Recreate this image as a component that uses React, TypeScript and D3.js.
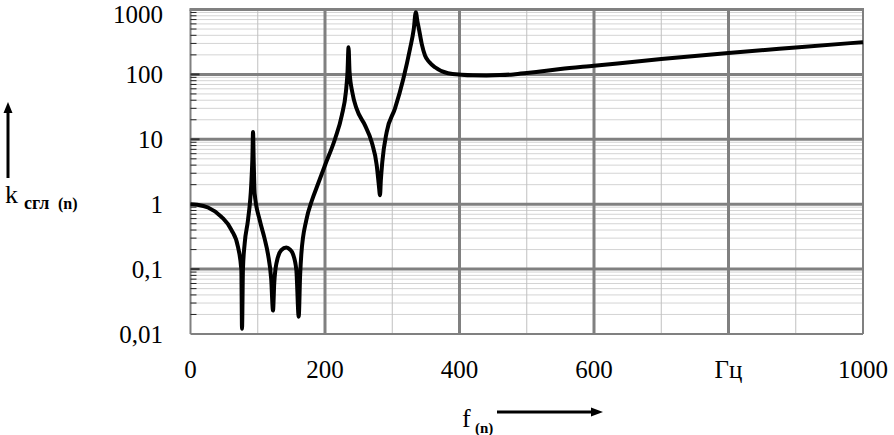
import React from "react";
import * as d3 from "d3";

const freq = [0, 10, 26, 46, 61, 70.6, 75.6, 76.6, 78, 80.6, 85.5, 90.4, 92, 93, 94, 95.4, 102.9, 110, 115.2, 120, 122.7, 124.5, 127.6, 135, 142.5, 148, 152.4, 157.4, 160.9, 163, 164.8, 172.2, 180, 190, 200, 215, 225, 231, 233.5, 235, 236.5, 240.6, 247, 259.5, 269.4, 276.9, 280, 281.8, 283, 285.2, 291.7, 304, 316.5, 326.4, 332, 335, 337.5, 340, 344, 348.7, 355, 363.6, 383, 403, 420, 440, 460, 480, 500, 520, 550, 600, 700, 800, 900, 1000];
const kValues = [1.0, 0.98, 0.89, 0.64, 0.4, 0.22, 0.097, 0.012, 0.1, 0.25, 0.57, 2.08, 5, 12.9, 4.5, 1.46, 0.57, 0.3, 0.17, 0.07, 0.023, 0.06, 0.12, 0.196, 0.216, 0.2, 0.17, 0.097, 0.0185, 0.08, 0.17, 0.57, 1.1, 2.1, 3.98, 10.2, 23.4, 53, 110, 263, 110, 53, 29.6, 16.4, 9.1, 3.98, 2.0, 1.37, 2.3, 4.47, 12.9, 29.6, 85.9, 248, 500, 910, 650, 480, 290, 196, 155, 129, 104, 99, 97, 96.5, 97.5, 100, 105, 111, 121, 136, 172, 214, 260, 314];

const xTicks = [0, 200, 400, 600, 800, 1000];
const xTickLabels = ["0", "200", "400", "600", "Гц", "1000"];
const yTicks = [0.01, 0.1, 1, 10, 100, 1000];
const yTickLabels = ["0,01", "0,1", "1", "10", "100", "1000"];

const W = 894, H = 435;
const X0 = 190.5, X1 = 863, Y0 = 334, Y1 = 9.5;

export default function App() {
  const x = d3.scaleLinear().domain([0, 1000]).range([X0, X1]);
  const y = d3.scaleLog().domain([0.01, 1000]).range([Y0, Y1]);
  const pts = freq.map((f, i) => [f, kValues[i]] as [number, number]);
  const line = d3.line<[number, number]>().x(d => x(d[0])).y(d => y(d[1])).curve(d3.curveMonotoneX);

  const minorY: number[] = [];
  for (let e = -2; e < 3; e++) for (let m = 2; m <= 9; m++) minorY.push(m * Math.pow(10, e));
  const minorX = [100, 300, 500, 700, 900];
  const majorX = [200, 400, 600, 800];
  const majorY = [0.1, 1, 10, 100];
  const font = "'Liberation Serif', 'Times New Roman', serif";

  return (
    <svg width={W} height={H} style={{ position: "absolute", left: 0, top: 0, background: "#fff" }} fontFamily={font}>
      {minorY.map((v, i) => (
        <line key={"my" + i} x1={X0} x2={X1} y1={y(v)} y2={y(v)} stroke="#d4d4d4" strokeWidth={1} />
      ))}
      {minorX.map((v, i) => (
        <line key={"mx" + i} x1={x(v)} x2={x(v)} y1={Y1} y2={Y0} stroke="#c0c0c0" strokeWidth={1} />
      ))}
      {majorY.map((v, i) => (
        <line key={"My" + i} x1={X0} x2={X1} y1={y(v)} y2={y(v)} stroke="#808080" strokeWidth={3} />
      ))}
      {majorX.map((v, i) => (
        <line key={"Mx" + i} x1={x(v)} x2={x(v)} y1={Y1} y2={Y0} stroke="#808080" strokeWidth={3} />
      ))}
      {/* borders */}
      <line x1={X0 - 1} x2={X1 + 1} y1={Y1} y2={Y1} stroke="#808080" strokeWidth={3} />
      <line x1={X1} x2={X1} y1={Y1} y2={Y0} stroke="#808080" strokeWidth={2} />
      <line x1={X0} x2={X0} y1={Y1} y2={Y0} stroke="#808080" strokeWidth={2} />
      <line x1={X0} x2={X1} y1={Y0} y2={Y0} stroke="#808080" strokeWidth={2} />
      {/* left ticks */}
      {minorY.map((v, i) => (
        <line key={"ty" + i} x1={X0} x2={X0 + 6} y1={y(v)} y2={y(v)} stroke="#222" strokeWidth={1} />
      ))}
      {majorY.map((v, i) => (
        <line key={"tY" + i} x1={X0} x2={X0 + 9} y1={y(v)} y2={y(v)} stroke="#333" strokeWidth={2} />
      ))}
      {/* curve */}
      <path d={line(pts) || ""} fill="none" stroke="#000" strokeWidth={4} strokeLinejoin="round" />
      {/* y tick labels */}
      {yTicks.map((v, i) => (
        <text key={"yl" + i} x={163} y={Math.max(y(v) + 8.5, 23)} textAnchor="end" fontSize={25} fill="#000">{yTickLabels[i]}</text>
      ))}
      {xTicks.map((v, i) => (
        <text key={"xl" + i} x={x(v)} y={378} textAnchor="middle" fontSize={25} fill="#000">{xTickLabels[i]}</text>
      ))}
      {/* y label */}
      <line x1={8} x2={8} y1={178} y2={112} stroke="#000" strokeWidth={3} />
      <path d="M3.5,113 L8,102 L12.5,113 Z" fill="#000" />
      <text x={5} y={203} fontSize={26} fill="#000">k</text>
      <text x={24} y={209} fontSize={18} fontWeight="bold" fill="#000">сгл</text>
      <text x={58} y={209} fontSize={16} fontWeight="bold" fill="#000">(n)</text>
      {/* x label */}
      <text x={462} y={427} fontSize={26} fill="#000">f</text>
      <text x={475} y={433} fontSize={15} fontWeight="bold" fill="#000">(n)</text>
      <line x1={497} x2={592} y1={412} y2={412} stroke="#000" strokeWidth={3} />
      <path d="M591,407.5 L603,412 L591,416.5 Z" fill="#000" />
    </svg>
  );
}
